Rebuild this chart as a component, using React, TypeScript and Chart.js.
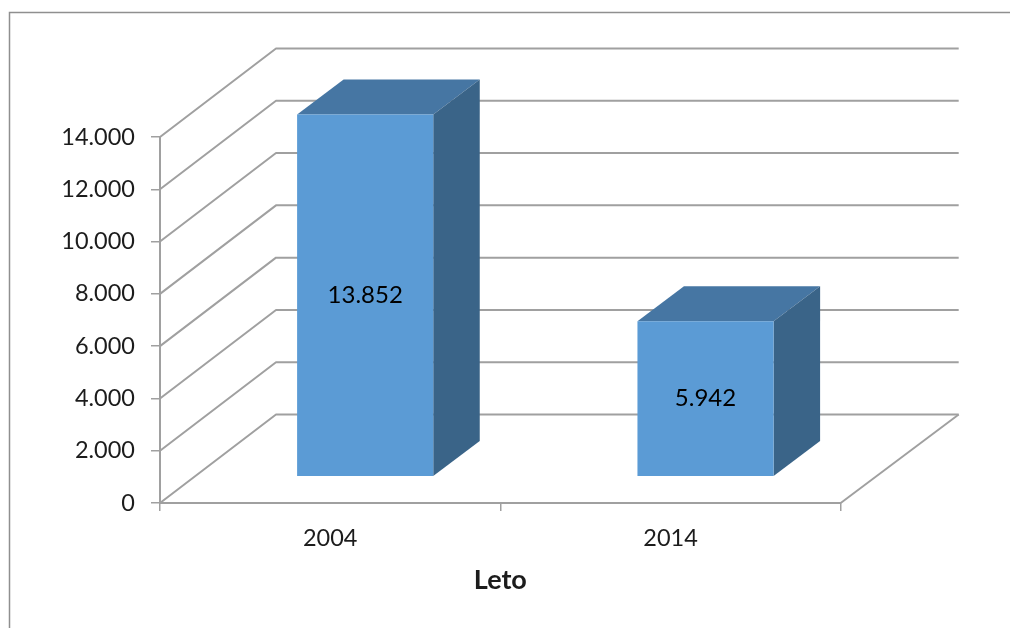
import React, { useEffect, useRef } from "react";
import { Chart, registerables } from "chart.js";

Chart.register(...registerables);

const categories = ["2004", "2014"];
const seriesValues = [13852, 5942];
const axisMax = 14000;
const axisStep = 2000;
const xAxisTitle = "Leto";

const GRID = "#a0a0a0";
const FRONT = "#5b9bd5";
const TOP = "#4676a3";
const SIDE = "#3a6488";
const TEXT = "#1c1c1c";
const FONT = "Lato, Carlito, sans-serif";

const WALL_DX = 116;
const WALL_DY = -88.5;
const WALL_END_DX = 118;
const BAR_DX = 35;
const BAR_DY = -26.3;
const BAR_DEPTH_X = 46.5;
const BAR_DEPTH_Y = -35;

const fmt = (v: number) => String(v).replace(/\B(?=(\d{3})+(?!\d))/g, ".");

const box3d = {
  id: "box3d",
  beforeDraw(chart: any) {
    const c = chart.ctx;
    c.save();
    c.strokeStyle = "#8f8f8f";
    c.lineWidth = 1.5;
    c.beginPath();
    c.moveTo(9.5, 628);
    c.lineTo(9.5, 12.5);
    c.lineTo(1010, 12.5);
    c.stroke();
    c.restore();
  },
  beforeDatasetsDraw(chart: any) {
    const c = chart.ctx;
    const { x, y } = chart.scales;
    const left = x.left;
    const right = x.right;
    c.save();
    c.strokeStyle = GRID;
    c.lineWidth = 2;
    c.lineJoin = "round";
    y.ticks.forEach((t: any) => {
      const py = y.getPixelForValue(t.value);
      c.beginPath();
      c.moveTo(left, py);
      c.lineTo(left + WALL_DX, py + WALL_DY);
      c.lineTo(right + WALL_END_DX, py + WALL_DY);
      c.stroke();
    });
    const base = y.getPixelForValue(0);
    c.beginPath();
    c.moveTo(right, base);
    c.lineTo(right + WALL_END_DX, base + WALL_DY);
    c.stroke();
    c.restore();
  },
  beforeDatasetDraw(chart: any, args: any) {
    const c = chart.ctx;
    const meta = chart.getDatasetMeta(args.index);
    c.save();
    c.translate(BAR_DX, BAR_DY);
    meta.data.forEach((bar: any) => {
      const { x, y, base, width } = bar.getProps(["x", "y", "base", "width"], true);
      const l = x - width / 2;
      const r = x + width / 2;
      c.fillStyle = TOP;
      c.beginPath();
      c.moveTo(l, y);
      c.lineTo(l + BAR_DEPTH_X, y + BAR_DEPTH_Y);
      c.lineTo(r + BAR_DEPTH_X, y + BAR_DEPTH_Y);
      c.lineTo(r, y);
      c.closePath();
      c.fill();
      c.fillStyle = SIDE;
      c.beginPath();
      c.moveTo(r, y);
      c.lineTo(r + BAR_DEPTH_X, y + BAR_DEPTH_Y);
      c.lineTo(r + BAR_DEPTH_X, base + BAR_DEPTH_Y);
      c.lineTo(r, base);
      c.closePath();
      c.fill();
    });
  },
  afterDatasetDraw(chart: any, args: any) {
    const c = chart.ctx;
    const meta = chart.getDatasetMeta(args.index);
    c.fillStyle = "#000000";
    c.font = `24px ${FONT}`;
    c.textAlign = "center";
    c.textBaseline = "middle";
    meta.data.forEach((bar: any, i: number) => {
      const { x, y, base } = bar.getProps(["x", "y", "base"], true);
      c.fillText(fmt(seriesValues[i]), x, (y + base) / 2);
    });
    c.restore();
  },
};

export default function App() {
  const ref = useRef<HTMLCanvasElement>(null);
  useEffect(() => {
    document.body.style.margin = "0";
    document.body.style.background = "#ffffff";
    const chart = new Chart(ref.current as HTMLCanvasElement, {
      type: "bar",
      data: {
        labels: categories,
        datasets: [
          {
            data: seriesValues,
            backgroundColor: FRONT,
            borderWidth: 0,
            barPercentage: 1,
            categoryPercentage: 0.4,
            clip: false,
          } as any,
        ],
      },
      plugins: [box3d as any],
      options: {
        responsive: false,
        animation: false,
        layout: { padding: { top: 137, right: 169.3, left: 0, bottom: 0 } },
        plugins: { legend: { display: false }, tooltip: { enabled: false } },
        scales: {
          x: {
            type: "category",
            offset: true,
            afterFit: (s: any) => {
              s.height = 125;
            },
            grid: { display: true, offset: true, drawOnChartArea: false, drawTicks: true, tickLength: 8, color: GRID, lineWidth: 1.5 },
            border: { display: true, color: GRID, width: 2 },
            ticks: { color: TEXT, font: { family: FONT, size: 23.5 }, padding: 13, maxRotation: 0 },
            title: { display: true, text: xAxisTitle, color: TEXT, font: { family: FONT, size: 27, weight: "bold" }, padding: { top: 0, bottom: 32 } },
          },
          y: {
            type: "linear",
            min: 0,
            max: axisMax,
            afterFit: (s: any) => {
              s.width = 160;
            },
            grid: { display: true, drawOnChartArea: false, drawTicks: true, tickLength: 9, color: GRID, lineWidth: 1.5 },
            border: { display: true, color: GRID, width: 2 },
            ticks: { stepSize: axisStep, color: TEXT, font: { family: FONT, size: 23.5 }, padding: 16, callback: (v: any) => fmt(Number(v)) },
          },
        },
      } as any,
    });
    return () => chart.destroy();
  }, []);
  return <canvas ref={ref} width={1010} height={628} style={{ display: "block", width: 1010, height: 628 }} />;
}
